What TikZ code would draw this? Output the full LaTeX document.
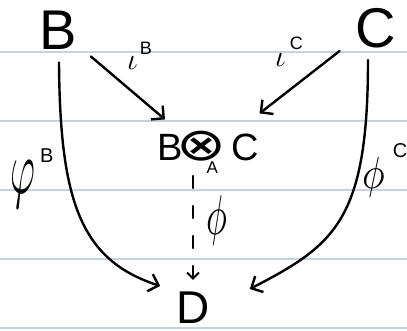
\documentclass[tikz,border=0pt]{standalone}
\usepackage{fontspec}
\setmainfont{Liberation Sans}
\newfontfamily\symfont{DejaVu Sans}
\usetikzlibrary{arrows.meta,calc}
\begin{document}
\begin{tikzpicture}[x=1pt,y=-1pt,
  paperline/.style={line width=1.6pt, color={rgb,255:red,196;green,210;blue,228}},
  ink/.style={line width=2.4pt, line cap=round, line join=round},
  arr/.style={ink, -{Straight Barb[length=9pt,width=18pt,line width=2.4pt]}},
  darr/.style={ink, dash pattern=on 12pt off 18pt, -{Straight Barb[length=6pt,width=12pt,line width=2pt]}},
  obj/.style={inner sep=0pt},
  lbl/.style={inner sep=0pt, anchor=base west}]
\fill[white] (0,0) rectangle (407,331);
\useasboundingbox (0,0) rectangle (407,331);
\foreach \yy in {52,121,190,259,328} \draw[paperline] (0,\yy) -- (407,\yy);

\node[obj, font=\fontsize{56}{56}\selectfont] (B) at (58,30) {B};
\node[obj, font=\fontsize{56}{56}\selectfont] (C) at (376,28) {C};
\node[obj, inner ysep=12pt, font=\fontsize{38}{38}\selectfont, anchor=base west] (T) at (157,161)
  {B\kern-6pt\raisebox{0pt}{\resizebox*{50pt}{30pt}{\symfont ⊗}}\kern-20pt\raisebox{-13pt}{\fontsize{17}{17}\selectfont A}\kern14pt C};
\node[obj, font=\fontsize{46}{46}\selectfont] (D) at (193,308) {D};

\node[lbl] (iB) at (127,70) {\scalebox{3}{\normalsize$\iota$}\kern2pt\raisebox{15pt}{\fontsize{18}{18}\selectfont B}};
\node[lbl] (iC) at (275,67) {\scalebox{3}{\normalsize$\iota$}\kern4pt\raisebox{17pt}{\fontsize{18}{18}\selectfont C}};
\node[lbl] (pB) at (10,194) {\scalebox{3.8}[7.6]{\normalsize$\varphi$}\kern5pt\raisebox{32pt}{\fontsize{20}{20}\selectfont B}};
\node[lbl] (pC) at (362,189) {\scalebox{3.8}[4.5]{\normalsize$\phi$}\kern8pt\raisebox{31pt}{\fontsize{20}{20}\selectfont C}};
\node[obj] (p) at (217,221) {\scalebox{3.5}[5.6]{\normalsize$\phi$}};

\draw[arr] ($(B.south east)+(14,7)$) -- ($(T.north west)+(8,0)$);
\draw[arr] ($(C.south west)+(-16,3)$) -- ($(T.north east)+(0,-6)$);
\draw[arr] ($(B.south)+(1,13)$) .. controls (60,200) and (80,260) .. ($(D.north west)+(-16,-6)$);
\draw[arr] ($(C.south)+(-8,12)$) .. controls (368,220) and (335,245) .. ($(D.north east)+(40,-3)$);
\draw[darr] (193,176) -- ($(D.north)+(0,-12)$);
\end{tikzpicture}
\end{document}
